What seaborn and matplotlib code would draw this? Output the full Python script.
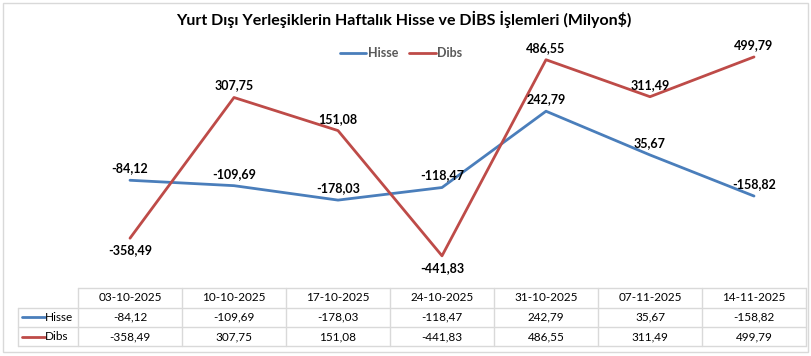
import matplotlib
matplotlib.use("Agg")
import matplotlib.pyplot as plt
from matplotlib.lines import Line2D
from matplotlib.patches import Rectangle
from matplotlib.transforms import blended_transform_factory
import pandas as pd
import seaborn as sns

dates = ["03-10-2025", "10-10-2025", "17-10-2025", "24-10-2025",
         "31-10-2025", "07-11-2025", "14-11-2025"]
hisse = [-84.12, -109.69, -178.03, -118.47, 242.79, 35.67, -158.82]
dibs = [-358.49, 307.75, 151.08, -441.83, 486.55, 311.49, 499.79]
series_names = ["Hisse", "Dibs"]
colors = ["#4A7EBB", "#BE4B48"]
title = "Yurt Dışı Yerleşiklerin Haftalık Hisse ve DİBS İşlemleri (Milyon$)"


def fmt(v):
    return f"{v:.2f}".replace(".", ",")


W, H = 811, 356
sns.set_style("white")
plt.rcParams["font.family"] = ["Lato", "DejaVu Sans"]

df = pd.DataFrame({
    "pos": list(range(len(dates))) * 2,
    "value": hisse + dibs,
    "series": [series_names[0]] * len(dates) + [series_names[1]] * len(dates),
})

fig = plt.figure(figsize=(W / 100, H / 100), dpi=100)
# plot area in pixels: x 78..806, y 40..285
ax = fig.add_axes([78 / W, 1 - 285 / H, 728 / W, 245 / H])
sns.lineplot(data=df, x="pos", y="value", hue="series", palette=colors,
             linewidth=2, ax=ax, legend=False)
ax.set_xlim(-0.5, len(dates) - 0.5)
ax.set_ylim(-580, 580)
ax.axis("off")

# data labels
for name, vals in zip(series_names, [hisse, dibs]):
    for i, v in enumerate(vals):
        below = name == "Dibs" and v < 0
        ax.annotate(fmt(v), (i, v), xytext=(0, -12 if below else 12),
                    textcoords="offset pixels",
                    ha="center", va="center", fontsize=9, fontweight="bold",
                    color="black")

# title and legend
fig.text(404 / W, 1 - 19 / H, title, ha="center", va="center",
         fontsize=11.5, fontweight="bold", color="black")
handles = [Line2D([], [], color=c, lw=2) for c in colors]
fig.legend(handles, series_names, loc="center", ncol=2,
           bbox_to_anchor=(401 / W, 1 - 53 / H), frameon=False,
           handlelength=2.1, handletextpad=0.1, columnspacing=0.9,
           prop={"weight": "bold", "size": 9}, labelcolor="#595959")

# data table under the chart
grid = "#D9D9D9"
tr = blended_transform_factory(ax.transData, fig.transFigure)
rows_px = [288, 307.5, 327, 346]


def fy(p):
    return 1 - p / H


left_data = -0.5 - 60 / 104
right_data = len(dates) - 0.5
# horizontal lines
for k, yp in enumerate(rows_px):
    x0 = left_data if k > 0 else -0.5
    fig.add_artist(Line2D([x0, right_data], [fy(yp), fy(yp)], transform=tr,
                          color=grid, lw=1))
# vertical lines
for k in range(len(dates) + 1):
    xv = k - 0.5
    fig.add_artist(Line2D([xv, xv], [fy(rows_px[0]), fy(rows_px[-1])],
                          transform=tr, color=grid, lw=1))
fig.add_artist(Line2D([left_data, left_data], [fy(rows_px[1]), fy(rows_px[-1])],
                      transform=tr, color=grid, lw=1))

for i, d in enumerate(dates):
    fig.text(i, fy((rows_px[0] + rows_px[1]) / 2), d, transform=tr,
             ha="center", va="center", fontsize=8.5, color="black")
for r, (name, vals, c) in enumerate(zip(series_names, [hisse, dibs], colors)):
    yc = fy((rows_px[r + 1] + rows_px[r + 2]) / 2)
    for i, v in enumerate(vals):
        fig.text(i, yc, fmt(v), transform=tr, ha="center", va="center",
                 fontsize=8.5, color="black")
    fig.add_artist(Line2D([22 / W, 45 / W], [yc, yc], color=c, lw=2))
    fig.text(45 / W, yc, name, ha="left", va="center", fontsize=8.5,
             color="black")

# chart border
fig.add_artist(Rectangle((3 / W, 1 - 352 / H), 805 / W, 349 / H,
                         transform=fig.transFigure, fill=False,
                         edgecolor=grid, lw=1))

fig.savefig("out.png", dpi=100)
